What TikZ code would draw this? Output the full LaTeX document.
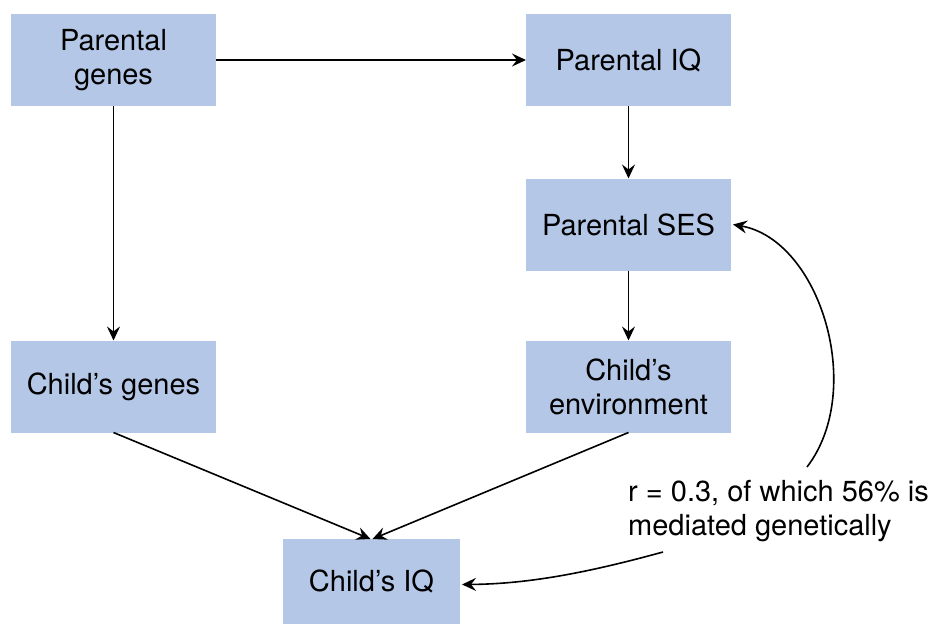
\documentclass[tikz,border=0pt]{standalone}
\usepackage{fontspec}
\setmainfont{TeX Gyre Heros}
\usetikzlibrary{arrows.meta}
\definecolor{boxblue}{RGB}{180,199,231}

\begin{document}
\begin{tikzpicture}[
      x=1pt, y=1pt,
      box/.style={rectangle, fill=boxblue, minimum width=205pt, minimum height=92pt,
        inner sep=0pt, outer sep=0pt, align=center, font=\fontsize{29}{34}\selectfont},
      link/.style={-{Stealth[length=14pt, width=13pt, inset=5pt]}, line width=1.6pt}
    ]
    \useasboundingbox (0,0) rectangle (939,-624);
    \node[box] (pgenes) at (113.5,-60) {Parental\\genes};
    \node[box] (piq) at (628.5,-60) {Parental IQ};
    \node[box] (pses) at (628.5,-224.5) {Parental SES};
    \node[box] (cgenes) at (113.5,-386.5) {Child’s genes};
    \node[box] (cenv) at (628.5,-386.5) {Child’s\\environment};
    \node[box, minimum width=177pt, minimum height=85pt] (ciq) at (371.5,-581.5) {Child’s IQ};
    \node[align=left, anchor=base west, inner sep=0pt, font=\fontsize{29}{34}\selectfont]
      (note) at (628,-535) {r = 0.3, of which 56\% is\\mediated genetically};
    \coordinate (uptail) at (807,-467);
    \coordinate (lowtail) at (663,-552);

    \draw[link] (pgenes) -- (piq);
    \draw[link] (piq) -- (pses);
    \draw[link] (pses) -- (cenv);
    \draw[link] (pgenes) -- (cgenes);
    \draw[link] (cgenes.south) -- ([xshift=-1pt]ciq.north);
    \draw[link] (cenv.south) -- ([xshift=1pt]ciq.north);
    \draw[link] (uptail) .. controls (866,-390) and (820,-240) .. ([xshift=2pt]pses.east);
    \draw[link] (lowtail) .. controls (590,-572) and (530,-584) .. ([xshift=2pt,yshift=-3pt]ciq.east);
\end{tikzpicture}
\end{document}
